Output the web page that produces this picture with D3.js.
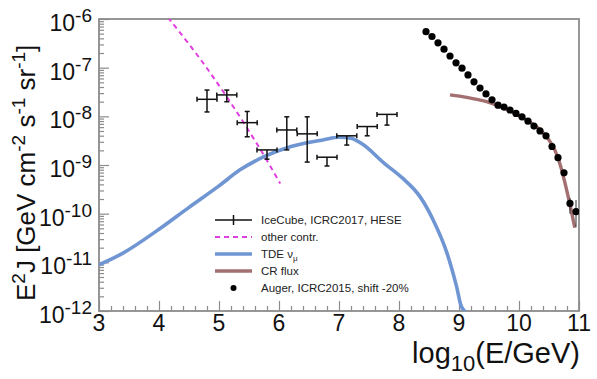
<!DOCTYPE html>
<html><head><meta charset="utf-8">
<script src="https://cdn.jsdelivr.net/npm/d3@7"></script>
<style>body{margin:0;background:#fff;} text{font-family:"Liberation Sans",Arial,Helvetica,sans-serif;}</style>
</head><body>
<svg id="chart" width="597" height="379"></svg>
<script>
// ---- data (log10 values) ----
const xTickValues = [3,4,5,6,7,8,9,10,11];
const yTickExponents = [-12,-11,-10,-9,-8,-7,-6];

// IceCube ICRC2017 HESE: bin centres in log10(E/GeV), half bin width, flux (log10), error bounds (log10)
const iceLogE = [4.80,5.13,5.47,5.80,6.13,6.47,6.80,7.13,7.47,7.80];
const iceHalfBin = 1/6;
const iceLogJ = [-7.65,-7.56,-8.13,-8.69,-8.28,-8.36,-8.84,-8.40,-8.21,-7.96];
const iceLogUp = [-7.46,-7.46,-7.90,null,-8.01,-8.01,null,null,null,null];
const iceLogDown = [-7.91,-7.70,-8.42,-8.88,-8.69,-8.94,-9.02,-8.59,-8.40,-8.18];

// other contributions (dashed magenta)
const otherLogE = [4.15,4.65,5.13,5.68,6.02];
const otherLogJ = [-5.97,-6.76,-7.60,-8.66,-9.38];

// TDE nu_mu (blue)
const tdeLogE = [3.0,3.4,4.0,4.5,5.0,5.35,5.75,6.2,6.75,7.0,7.2,7.4,7.75,8.05,8.35,8.57,8.8,8.96,9.04,9.15];
const tdeLogJ = [-11.05,-10.81,-10.32,-9.87,-9.43,-9.10,-8.83,-8.62,-8.48,-8.43,-8.45,-8.58,-8.96,-9.26,-9.65,-10.13,-10.81,-11.50,-11.91,-12.05];

// CR flux (brown)
const crLogE = [8.85,9.13,9.46,9.63,9.9,10.13,10.3,10.46,10.6,10.68,10.82,10.93];
const crLogJ = [-7.56,-7.61,-7.70,-7.77,-7.92,-8.08,-8.22,-8.42,-8.70,-8.97,-9.65,-10.29];

// Auger ICRC2015, shift -20%
const augerLogE = [8.45,8.55,8.65,8.75,8.85,8.95,9.05,9.15,9.25,9.35,9.45,9.55,9.65,9.75,9.85,9.95,10.05,10.15,10.25,10.35,10.45,10.55,10.65,10.75,10.85,10.95];
const augerLogJ = [-6.26,-6.36,-6.49,-6.62,-6.76,-6.90,-7.01,-7.15,-7.29,-7.42,-7.54,-7.66,-7.77,-7.81,-7.87,-7.94,-8.01,-8.10,-8.20,-8.30,-8.40,-8.62,-8.85,-9.16,-9.79,-9.96];
const augerErrLogE = [10.85,10.95];
const augerErrLogHi = [-9.68,-9.72];
const augerErrLogLo = [-10.00,-10.27];

const legendLabels = ["IceCube, ICRC2017, HESE","other contr.","TDE \u03BD","CR flux","Auger, ICRC2015, shift -20%"];

// ---- layout ----
const L=99, R=579, T=19, B=311;
const svg = d3.select("#chart");
const x = d3.scaleLinear().domain([3,11]).range([L,R]);
const y = d3.scaleLog().domain([1e-12,1e-6]).range([B,T]);
const p = v => Math.pow(10,v);

const colBlue="#6f96d3", colBrown="#a36f70", colMag="#e03ee0", axisCol="#8c8c8c";

svg.append("defs").append("clipPath").attr("id","clip")
  .append("rect").attr("x",L).attr("y",T).attr("width",R-L).attr("height",B-T);

// ---- axes ticks ----
const yMinor=[];
for(let e=-12;e<-6;e++) for(let k=2;k<=9;k++) yMinor.push(k*p(e));
const xMinor=[];
for(let i=3;i<11;i++) for(let k=1;k<5;k++) xMinor.push(i+k*0.2);

function styleAxis(g){ g.select(".domain").remove(); g.selectAll("line").attr("stroke",axisCol).attr("stroke-width",1.2); g.selectAll("text").remove(); }

svg.append("g").attr("transform",`translate(${L},0)`)
  .call(d3.axisLeft(y).tickValues(yTickExponents.map(p)).tickSize(-10).tickFormat("")).call(styleAxis);
svg.append("g").attr("transform",`translate(${L},0)`)
  .call(d3.axisLeft(y).tickValues(yMinor).tickSize(-5).tickFormat("")).call(styleAxis);
svg.append("g").attr("transform",`translate(0,${B})`)
  .call(d3.axisBottom(x).tickValues(xTickValues).tickSize(-10).tickFormat("")).call(styleAxis);
svg.append("g").attr("transform",`translate(0,${B})`)
  .call(d3.axisBottom(x).tickValues(xMinor).tickSize(-5).tickFormat("")).call(styleAxis);

// frame
svg.append("rect").attr("x",L).attr("y",T).attr("width",R-L).attr("height",B-T)
  .attr("fill","none").attr("stroke",axisCol).attr("stroke-width",1.8);

// tick labels
const yl = svg.append("g");
yTickExponents.forEach(e=>{
  const t = yl.append("text").attr("x",92).attr("y",y(p(e))+12).attr("text-anchor","end").attr("fill","#111");
  t.append("tspan").attr("font-size",23).text("10");
  t.append("tspan").attr("font-size",19).attr("dy",-9).text("-"+Math.abs(e));
});
svg.append("g").selectAll("text").data(xTickValues).join("text")
  .attr("x",d=>x(d)).attr("y",331).attr("text-anchor","middle")
  .attr("font-size",23).attr("fill","#111").text(d=>d);

// axis titles
const xt = svg.append("text").attr("x",580).attr("y",363).attr("text-anchor","end").attr("fill","#111");
xt.append("tspan").attr("font-size",29).text("log");
xt.append("tspan").attr("font-size",22).attr("dy",8).text("10");
xt.append("tspan").attr("font-size",29).attr("dy",-8).text("(E/GeV)");

const yt = svg.append("text").attr("transform","translate(35,301) rotate(-90)").attr("text-anchor","start").attr("fill","#111").attr("font-size",26);
yt.append("tspan").text("E");
yt.append("tspan").attr("font-size",19).attr("dy",-10).text("2");
yt.append("tspan").attr("dy",10).text("J [GeV cm");
yt.append("tspan").attr("font-size",19).attr("dy",-10).text("-2");
yt.append("tspan").attr("dy",10).text(" s");
yt.append("tspan").attr("font-size",19).attr("dy",-10).text("-1");
yt.append("tspan").attr("dy",10).text(" sr");
yt.append("tspan").attr("font-size",19).attr("dy",-10).text("-1");
yt.append("tspan").attr("dy",10).text("]");

// ---- plot content ----
const plot = svg.append("g").attr("clip-path","url(#clip)");
const line = d3.line().x(d=>x(d[0])).y(d=>y(p(d[1]))).curve(d3.curveMonotoneX);
const zip = (a,b)=>a.map((v,i)=>[v,b[i]]);

plot.append("path").datum(zip(tdeLogE,tdeLogJ)).attr("d",line)
  .attr("fill","none").attr("stroke",colBlue).attr("stroke-width",3.6);
plot.append("path").datum(zip(crLogE,crLogJ)).attr("d",line)
  .attr("fill","none").attr("stroke",colBrown).attr("stroke-width",3.4);
plot.append("path").datum(zip(otherLogE,otherLogJ)).attr("d",d3.line().x(d=>x(d[0])).y(d=>y(p(d[1]))).curve(d3.curveCatmullRom))
  .attr("fill","none").attr("stroke",colMag).attr("stroke-width",2).attr("stroke-dasharray","5,4");

// IceCube error bars
const ice = plot.append("g").attr("stroke","#111").attr("stroke-width",1.5).attr("fill","none");
const cap=2.5;
iceLogE.forEach((e,i)=>{
  const cx=x(e), cy=y(p(iceLogJ[i])), x0=x(e-iceHalfBin), x1=x(e+iceHalfBin);
  ice.append("line").attr("x1",x0).attr("x2",x1).attr("y1",cy).attr("y2",cy);
  ice.append("line").attr("x1",x0).attr("x2",x0).attr("y1",cy-cap).attr("y2",cy+cap);
  ice.append("line").attr("x1",x1).attr("x2",x1).attr("y1",cy-cap).attr("y2",cy+cap);
  const yTop = iceLogUp[i]===null ? cy : y(p(iceLogUp[i]));
  const yBot = y(p(iceLogDown[i]));
  ice.append("line").attr("x1",cx).attr("x2",cx).attr("y1",yTop).attr("y2",yBot);
  ice.append("line").attr("x1",cx-cap).attr("x2",cx+cap).attr("y1",yBot).attr("y2",yBot);
  if(iceLogUp[i]!==null) ice.append("line").attr("x1",cx-cap).attr("x2",cx+cap).attr("y1",yTop).attr("y2",yTop);
});

// Auger
const aug = plot.append("g");
augerErrLogE.forEach((e,i)=>{
  aug.append("line").attr("x1",x(e)).attr("x2",x(e)).attr("y1",y(p(augerErrLogHi[i]))).attr("y2",y(p(augerErrLogLo[i])))
    .attr("stroke","#333").attr("stroke-width",1);
});
aug.selectAll("circle").data(zip(augerLogE,augerLogJ)).join("circle")
  .attr("cx",d=>x(d[0])).attr("cy",d=>y(p(d[1]))).attr("r",3.6).attr("fill","#000");

// ---- legend ----
const lg = svg.append("g");
const rowY=[220,237,254,271,288];
const lx0=215, lx1=252, tx=261;
lg.append("line").attr("x1",lx0).attr("x2",lx1).attr("y1",rowY[0]).attr("y2",rowY[0]).attr("stroke","#111").attr("stroke-width",1.5);
lg.append("line").attr("x1",(lx0+lx1)/2).attr("x2",(lx0+lx1)/2).attr("y1",rowY[0]-5).attr("y2",rowY[0]+5).attr("stroke","#111").attr("stroke-width",1.5);
lg.append("line").attr("x1",lx0).attr("x2",lx1).attr("y1",rowY[1]).attr("y2",rowY[1]).attr("stroke",colMag).attr("stroke-width",2).attr("stroke-dasharray","5,4");
lg.append("line").attr("x1",lx0).attr("x2",lx1).attr("y1",rowY[2]).attr("y2",rowY[2]).attr("stroke",colBlue).attr("stroke-width",3.6);
lg.append("line").attr("x1",lx0).attr("x2",lx1).attr("y1",rowY[3]).attr("y2",rowY[3]).attr("stroke",colBrown).attr("stroke-width",3.4);
lg.append("circle").attr("cx",(lx0+lx1)/2).attr("cy",rowY[4]).attr("r",3).attr("fill","#000");
legendLabels.forEach((s,i)=>{
  const t=lg.append("text").attr("x",tx).attr("y",rowY[i]+4).attr("font-size",11.5).attr("fill","#222").text(s);
  if(i===2) t.append("tspan").attr("font-size",8).attr("dy",3).text("\u03BC");
});
</script>
</body></html>
